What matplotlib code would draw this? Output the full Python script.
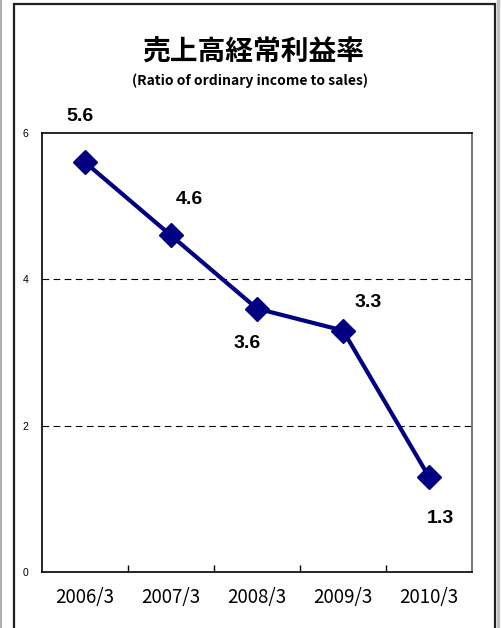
import matplotlib
matplotlib.use("Agg")
import matplotlib.pyplot as plt
from matplotlib.lines import Line2D
from matplotlib.patches import Rectangle

categories = ["2006/3", "2007/3", "2008/3", "2009/3", "2010/3"]
values = [5.6, 4.6, 3.6, 3.3, 1.3]
# label offsets (points) relative to each marker
label_offsets = [(-3.5, 33), (13.5, 26), (-7, -25), (18, 20), (8.5, -30)]
y_ticks = [0, 2, 4, 6]

JP = ["Noto Sans CJK JP", "DejaVu Sans"]
W, H = 501, 628

fig = plt.figure(figsize=(W / 100, H / 100), dpi=100)

# outer frame and grey window edges
fig.add_artist(Rectangle((14 / W, -0.01), (495 - 14) / W, (H - 4) / H + 0.01,
                         transform=fig.transFigure, fill=False,
                         edgecolor="#202020", linewidth=1.6))
fig.add_artist(Line2D([1 / W, 1 / W], [0, 1], transform=fig.transFigure,
                      color="#b0b0b0", linewidth=1.5))
fig.add_artist(Line2D([498 / W, 498 / W], [0, 1], transform=fig.transFigure,
                      color="#c0c0c0", linewidth=2.5))

fig.text(253 / W, 1 - 53 / H, "売上高経常利益率", family=JP, fontsize=20,
         fontweight="bold", ha="center", va="center")
fig.text(250 / W, 1 - 81 / H, "(Ratio of ordinary income to sales)", family=JP,
         fontsize=10, fontweight="bold", ha="center", va="center")

ax = fig.add_axes([42 / W, (H - 572) / H, 430 / W, 439 / H])
x = list(range(len(categories)))
ax.plot(x, values, color="#000080", linewidth=3, marker="D", markersize=12,
        zorder=3)

for xi, v, off in zip(x, values, label_offsets):
    ax.annotate(f"{v:.1f}", (xi, v), xytext=off, textcoords="offset points",
                ha="center", va="center", fontsize=14, fontweight="bold",
                family="Liberation Sans")

ax.set_xlim(-0.5, len(categories) - 0.5)
ax.set_ylim(0, 6)
ax.set_yticks(y_ticks)
ax.set_yticklabels([str(t) for t in y_ticks], family="Liberation Sans", fontsize=7.5)
ax.tick_params(axis="y", length=0, pad=10)

ax.set_xticks([i + 0.5 for i in range(len(categories) - 1)])
ax.set_xticklabels([])
ax.tick_params(axis="x", which="major", direction="in", length=5, width=1)
ax.set_xticks(x, minor=True)
ax.set_xticklabels(categories, minor=True, family=JP, fontsize=13.5)
ax.tick_params(axis="x", which="minor", length=0, pad=11)

for g in (2, 4):
    ax.axhline(g, color="black", linewidth=0.8, linestyle=(0, (6, 4)), zorder=1)

for s in ax.spines.values():
    s.set_linewidth(1.2)
    s.set_color("black")
ax.spines["right"].set_color("#606060")

fig.savefig("out.png", dpi=100)
